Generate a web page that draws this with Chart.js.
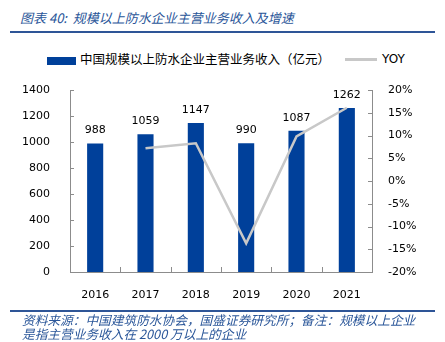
<!DOCTYPE html>
<html>
<head>
<meta charset="utf-8">
<script src="https://cdn.jsdelivr.net/npm/chart.js@4/dist/chart.umd.min.js"></script>
<style>
    html, body { margin: 0; padding: 0; background: #fff; }
    #wrap { position: relative; width: 445px; height: 342px; overflow: hidden; }
    #chart { position: absolute; left: 0; top: 0; }
    .cn { font-family: "Noto Sans CJK SC", "Noto Sans", sans-serif; }
    .title { position: absolute; left: 20px; top: 8px; font-size: 13px; font-style: italic; color: #2A5699; white-space: nowrap; }
    .rule { position: absolute; left: 10px; width: 425px; height: 2px; background: #2E5597; }
    .legend { position: absolute; top: 50px; font-size: 12.5px; color: #000; white-space: nowrap; line-height: 18px; }
    .note { position: absolute; left: 22px; font-size: 12.7px; font-style: italic; color: #2A5699; white-space: nowrap; line-height: 14px; }
</style>
</head>
<body>
<div id="wrap">
    <div class="title cn">图表 40:&nbsp;&nbsp;规模以上防水企业主营业务收入及增速</div>
    <div class="rule" style="top:31px"></div>

    <div class="legend cn" style="left:47px">
        <span style="display:inline-block;width:29px;height:8px;background:#00409A;vertical-align:middle;margin-right:4px"></span>中国规模以上防水企业主营业务收入（亿元）
    </div>
    <div class="legend" style="left:345px;font-family:'DejaVu Sans',sans-serif;font-size:12px">
        <span style="display:inline-block;width:32px;height:3px;background:#C8C8C8;vertical-align:middle;margin-right:5px"></span>YOY
    </div>

    <canvas id="chart" width="445" height="342"></canvas>

    <div class="rule" style="top:310px"></div>
    <div class="note cn" style="top:313px">资料来源：中国建筑防水协会，国盛证券研究所；备注：规模以上企业</div>
    <div class="note cn" style="top:327px">是指主营业务收入在 2000 万以上的企业</div>
</div>

<script>
    // ===========================================
    // DATA
    // ===========================================
    const years = ['2016', '2017', '2018', '2019', '2020', '2021'];
    const revenue = [988, 1059, 1147, 990, 1087, 1262];
    const yoy = [null, 7.2, 8.3, -13.7, 9.8, 16.1];

    const BAR_COLOR = '#00409A';
    const LINE_COLOR = '#C8C8C8';
    const AXIS_COLOR = '#8C8C8C';
    const FONT = "'DejaVu Sans', sans-serif";

    // ===========================================
    // PLUGINS
    // ===========================================
    const barLabels = {
        id: 'barLabels',
        afterDatasetsDraw(chart) {
            const ctx = chart.ctx;
            const meta = chart.getDatasetMeta(0);
            ctx.save();
            ctx.font = '11px ' + FONT;
            ctx.fillStyle = '#000';
            ctx.textAlign = 'center';
            ctx.textBaseline = 'middle';
            meta.data.forEach((bar, i) => {
                ctx.fillText(revenue[i], bar.x, bar.y - 13);
            });
            ctx.restore();
        }
    };

    // inward tick marks, like the original
    const innerTicks = {
        id: 'innerTicks',
        afterDraw(chart) {
            const ctx = chart.ctx;
            const area = chart.chartArea;
            ctx.save();
            ctx.strokeStyle = AXIS_COLOR;
            ctx.lineWidth = 1;
            ctx.beginPath();
            for (let i = 1; i < years.length; i++) {
                const px = Math.round(area.left + i * (area.right - area.left) / years.length) + 0.5;
                ctx.moveTo(px, area.bottom);
                ctx.lineTo(px, area.bottom - 5);
            }
            chart.scales.y.ticks.forEach((t, i) => {
                const py = Math.round(chart.scales.y.getPixelForTick(i)) + 0.5;
                ctx.moveTo(area.left, py);
                ctx.lineTo(area.left + 4, py);
            });
            chart.scales.y1.ticks.forEach((t, i) => {
                const py = Math.round(chart.scales.y1.getPixelForTick(i)) + 0.5;
                ctx.moveTo(area.right, py);
                ctx.lineTo(area.right - 4, py);
            });
            ctx.stroke();
            ctx.restore();
        }
    };

    // ===========================================
    // CHART
    // ===========================================
    new Chart(document.getElementById('chart'), {
        data: {
            labels: years,
            datasets: [
                {
                    type: 'bar',
                    data: revenue,
                    backgroundColor: BAR_COLOR,
                    borderWidth: 0,
                    barPercentage: 0.64,
                    categoryPercentage: 0.5,
                    yAxisID: 'y',
                    order: 2
                },
                {
                    type: 'line',
                    data: yoy,
                    borderColor: LINE_COLOR,
                    borderWidth: 2.5,
                    pointRadius: 0,
                    tension: 0,
                    yAxisID: 'y1',
                    order: 1
                }
            ]
        },
        options: {
            responsive: false,
            animation: false,
            layout: { padding: { top: 90, left: 0, right: 0, bottom: 0 } },
            plugins: {
                legend: { display: false },
                tooltip: { enabled: false }
            },
            scales: {
                x: {
                    grid: { display: false },
                    border: { display: true, color: AXIS_COLOR },
                    ticks: { color: '#000', font: { family: FONT, size: 11 }, padding: 9 },
                    afterFit(scale) { scale.height = 70; }
                },
                y: {
                    position: 'left',
                    min: 0,
                    max: 1400,
                    grid: { display: false },
                    border: { display: true, color: AXIS_COLOR },
                    ticks: {
                        stepSize: 200,
                        color: '#000',
                        font: { family: FONT, size: 11 },
                        padding: 12,
                        callback: v => String(v)
                    },
                    afterFit(scale) { scale.width = 70; }
                },
                y1: {
                    position: 'right',
                    min: -20,
                    max: 20,
                    grid: { display: false },
                    border: { display: true, color: AXIS_COLOR },
                    ticks: {
                        stepSize: 5,
                        color: '#000',
                        font: { family: FONT, size: 11 },
                        padding: 8,
                        callback: v => v + '%'
                    },
                    afterFit(scale) { scale.width = 73; }
                }
            }
        },
        plugins: [barLabels, innerTicks]
    });
</script>
</body>
</html>
